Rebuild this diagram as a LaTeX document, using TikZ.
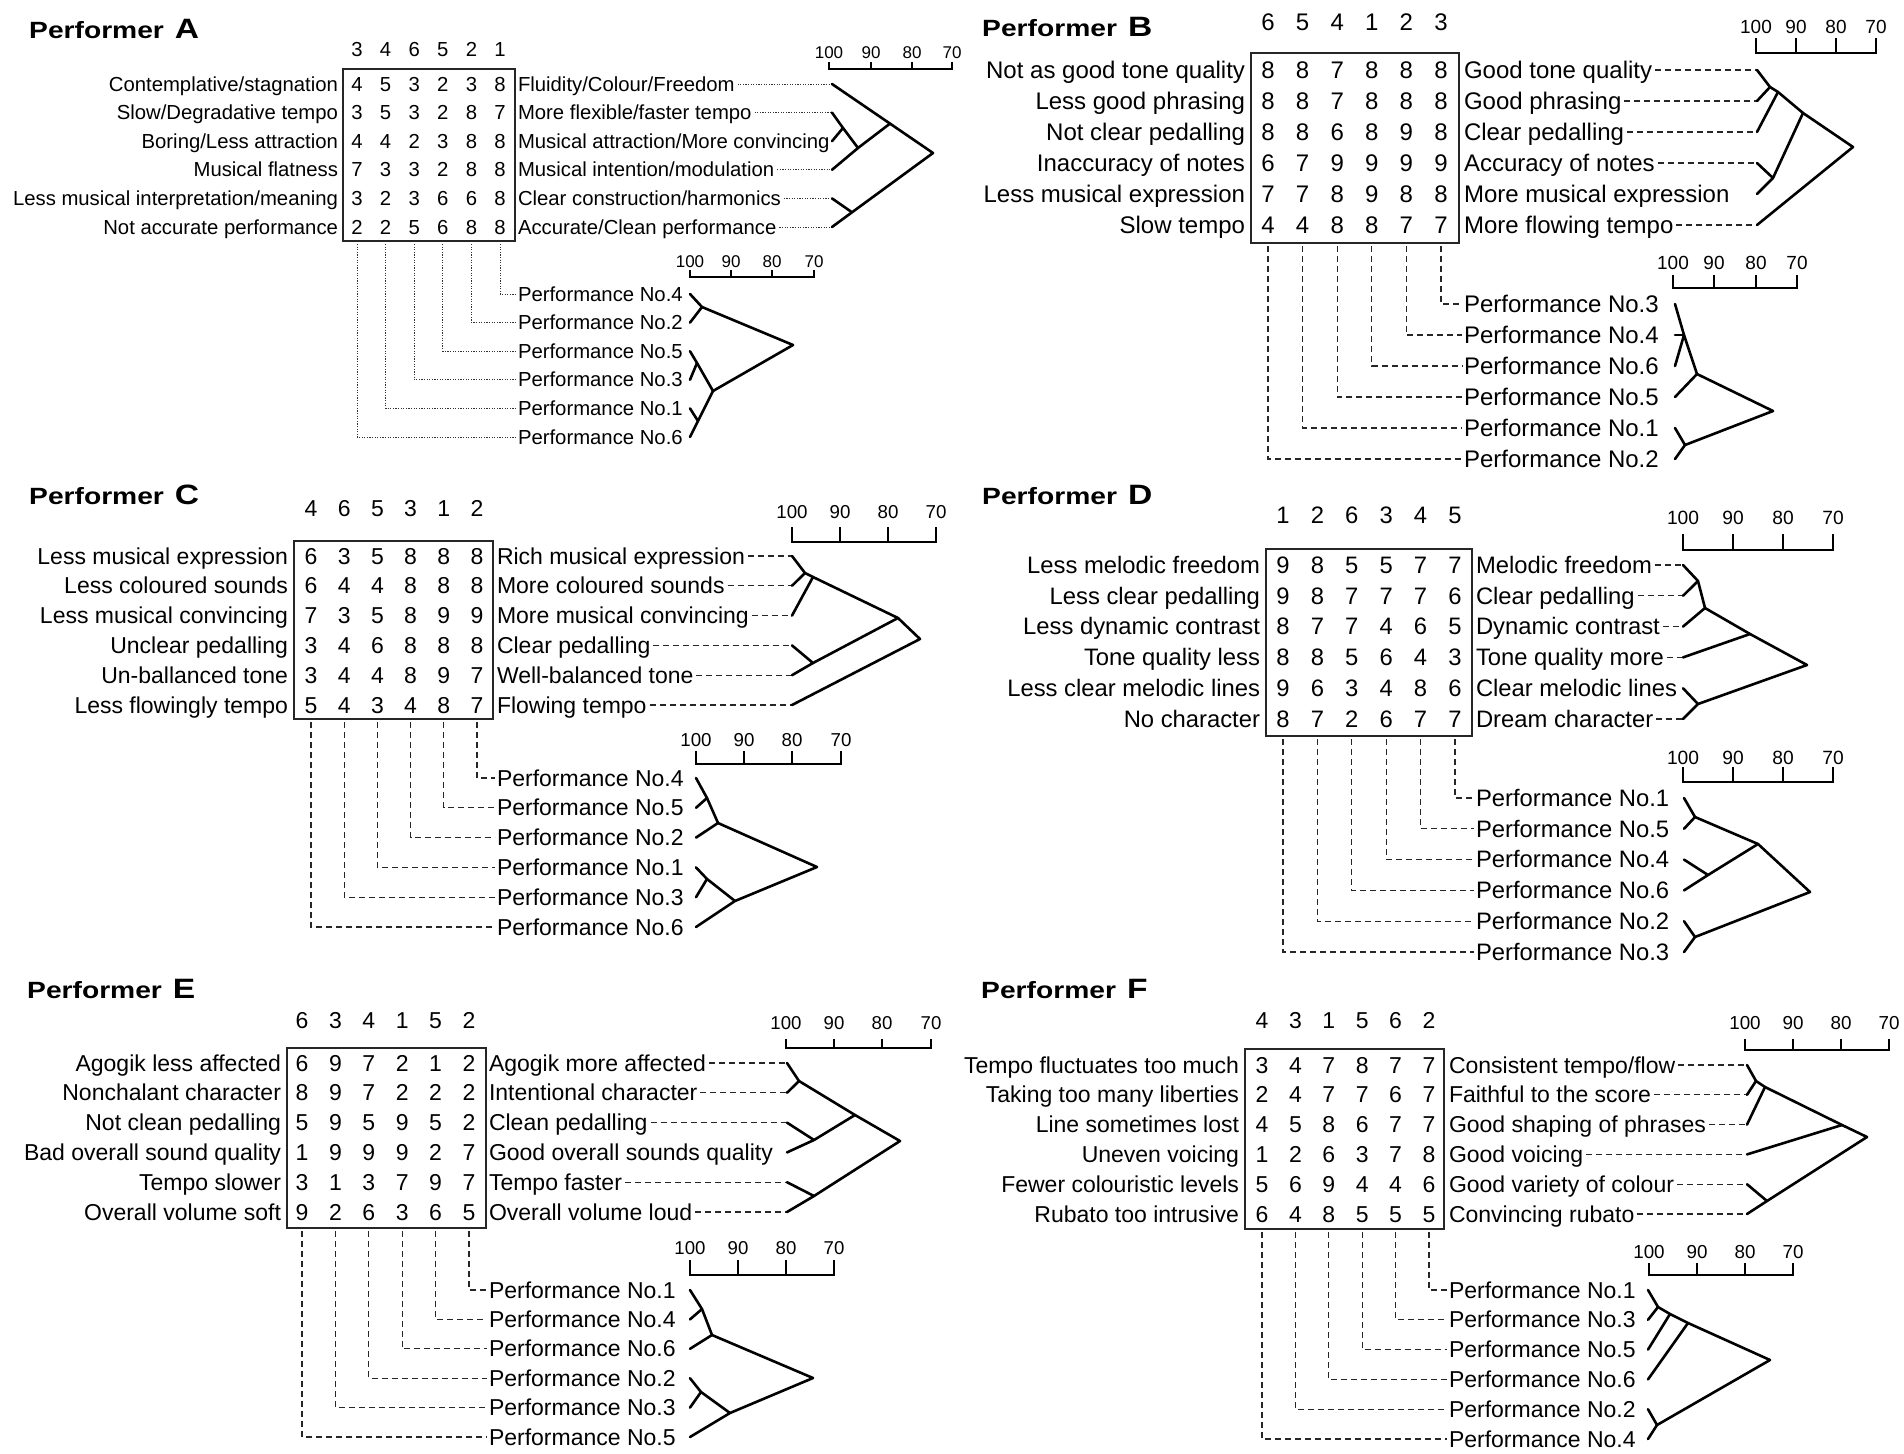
\documentclass[tikz,border=0pt]{standalone}
\usepackage{fontspec}
\setmainfont{Liberation Sans}
\newfontfamily\titlefont[FakeStretch=1.2]{Liberation Sans Bold}
\usetikzlibrary{calc}
\tikzset{
 lab/.style={inner sep=0pt, outer sep=0pt, text height=\QcapH pt, text depth=0pt, font=\Qpfont},
 num/.style={lab, anchor=center},
 sclab/.style={inner sep=0pt, outer sep=0pt, text height=\QscH pt, text depth=0pt, font=\Qsfont},
 boxst/.style={draw=black!85, line width=1.6pt, inner sep=0pt, outer sep=0pt},
 dend/.style={line width=2.6pt, line cap=round, line join=round},
 scl/.style={line width=1.6pt},
 dotc/.style={line width=1pt, dash pattern=on 1.2pt off 1.4pt, black!80},
 dashc/.style={line width=1.2pt, dash pattern=on 6pt off 4pt, black!85},
 conn/.style={dashc},
 titlest/.style={anchor=base west, inner sep=0pt, font=\titlefont\fontsize{23.5}{23.5}\selectfont},
}
\newcommand\drawpanel{%
 \pgfmathsetmacro\QcapH{0.70*\Qfs}%
 \def\Qpfont{\fontsize{\Qfs}{\Qfs}\selectfont}%
 \node[titlest] (\Qid-title) at (\Qtx,\Qty) {Performer\hspace{11pt}{\fontsize{28}{28}\selectfont\Qid}};
 \foreach \hh [count=\j] in \Qheads {\node[num] (\Qid-h\j) at ({\Qcx+(\j-1)*\Qcdx},\Qhy) {\hh};}
 \pgfmathsetmacro\Qbw{\Qbr-\Qbl}\pgfmathsetmacro\Qbh{\Qbb-\Qbt}
 \node[boxst, minimum width=\Qbw pt, minimum height=\Qbh pt, anchor=north west] (\Qid-box) at (\Qbl,\Qbt) {};
 \foreach \va/\vb/\vc/\vd/\ve/\vf [count=\i] in \Qvals {
   \foreach \vv [count=\j] in {\va,\vb,\vc,\vd,\ve,\vf} {
     \node[num] (\Qid-v\i-\j) at ({\Qcx+(\j-1)*\Qcdx},{\Qry+(\i-1)*\Qrdy}) {\vv};}}
 \foreach \lt [count=\i] in \Qlefts {\node[lab, anchor=east] (\Qid-l\i) at (\Qlex,{\Qry+(\i-1)*\Qrdy}) {\lt};}
 \foreach \lt [count=\i] in \Qrights {\node[lab, anchor=west] (\Qid-r\i) at (\Qrw,{\Qry+(\i-1)*\Qrdy}) {\lt};}
 \foreach \pn [count=\i] in \Qperfs {\node[lab, anchor=west] (\Qid-p\i) at (\Qrw,{\Qpy+(\i-1)*\Qpdy}) {Performance No.\pn};}
 \foreach \i in {1,...,6} {
   \coordinate (\Qid-L\i) at (\Qlx,{\Qry+(\i-1)*\Qrdy});
   \coordinate (\Qid-Q\i) at (\Qplx,{\Qpy+(\i-1)*\Qpdy});}
 \foreach \i in \Qdash {\draw[conn] ([xshift=3pt]\Qid-r\i.east) -- (\Qid-L\i);}
 \foreach \j in {1,...,6} {\pgfmathtruncatemacro\kk{7-\j}
   \draw[conn] ($(\Qid-h\j |- \Qid-box.south)+(0,3)$) |- ([xshift=-2pt]\Qid-p\kk.west);}
}
% name, x1..x4, label y, bar y, tick top, font size
\newcommand\scalebar[9]{%
 \pgfmathsetmacro\QscH{0.70*#9}%
 \def\Qsfont{\fontsize{#9}{#9}\selectfont}%
 \foreach \xx/\sv [count=\q] in {#2/100,#3/90,#4/80,#5/70} {\node[sclab] (#1-\q) at (\xx,#6) {\sv};}
 \draw[scl] (#2,#8) -- (#2,#7) -- (#5,#7) -- (#5,#8);
 \draw[scl] (#3,#7) -- (#3,#8);
 \draw[scl] (#4,#7) -- (#4,#8);
}
\begin{document}
\begin{tikzpicture}[x=1pt,y=-1pt]
\useasboundingbox (0,0) rectangle (1904,1454);
\fill[white] (0,0) rectangle (1904,1454);
% ================= A
\tikzset{conn/.style={dotc}}
\def\Qid{A}\def\Qfs{20.3}
\def\Qtx{29}\def\Qty{38}
\def\Qheads{3,4,6,5,2,1}
\def\Qcx{357}\def\Qcdx{28.6}\def\Qhy{49}
\def\Qry{84}\def\Qrdy{28.6}
\def\Qbl{343}\def\Qbt{69}\def\Qbr{515}\def\Qbb{241}
\def\Qlex{338}\def\Qrw{518}\def\Qlx{832}
\def\Qpy{294}\def\Qpdy{28.6}\def\Qplx{690}
\def\Qvals{4/5/3/2/3/8, 3/5/3/2/8/7, 4/4/2/3/8/8, 7/3/3/2/8/8, 3/2/3/6/6/8, 2/2/5/6/8/8}
\def\Qlefts{Contemplative/stagnation, Slow/Degradative tempo, Boring/Less attraction, Musical flatness, Less musical interpretation/meaning, Not accurate performance}
\def\Qrights{Fluidity/Colour/Freedom, More flexible/faster tempo, Musical attraction/More convincing, Musical intention/modulation, Clear construction/harmonics, Accurate/Clean performance}
\def\Qdash{1,2,4,5,6}
\def\Qperfs{4,2,5,3,1,6}
\drawpanel
\scalebar{A-st}{829}{871}{912}{952}{53}{69}{62}{17}
\scalebar{A-sb}{690}{731}{772}{814}{262}{277}{270}{17}
\coordinate (A-t23) at (843,128);
\coordinate (A-t234) at (858,148);
\coordinate (A-t1234) at (890,123.6);
\coordinate (A-troot) at (933,153);
\coordinate (A-t56) at (852,212.3);
\draw[dend] (A-L1) -- (A-t1234) -- (A-troot) -- (A-t56) -- (A-L6);
\draw[dend] (A-L2) -- (A-t23) -- (A-t234) -- (A-t1234);
\draw[dend] (A-L3) -- (A-t23);
\draw[dend] (A-L4) -- (A-t234);
\draw[dend] (A-L5) -- (A-t56);
\coordinate (A-b12) at (702,307);
\coordinate (A-broot) at (793,345);
\coordinate (A-b3456) at (713,391);
\coordinate (A-b34) at (697,363);
\coordinate (A-b56) at (698,421);
\draw[dend] (A-Q1) -- (A-b12) -- (A-broot) -- (A-b3456) -- (A-b34) -- (A-Q3);
\draw[dend] (A-Q2) -- (A-b12);
\draw[dend] (A-Q4) -- (A-b34);
\draw[dend] (A-b3456) -- (A-b56) -- (A-Q6);
\draw[dend] (A-Q5) -- (A-b56);
% ================= B
\tikzset{conn/.style={dashc}}
\def\Qid{B}\def\Qfs{24}
\def\Qtx{982}\def\Qty{36}
\def\Qheads{6,5,4,1,2,3}
\def\Qcx{1268}\def\Qcdx{34.6}\def\Qhy{22}
\def\Qry{70}\def\Qrdy{31}
\def\Qbl{1251}\def\Qbt{53}\def\Qbr{1459}\def\Qbb{243}
\def\Qlex{1245}\def\Qrw{1464}\def\Qlx{1757}
\def\Qpy{304}\def\Qpdy{31}\def\Qplx{1675}
\def\Qvals{8/8/7/8/8/8, 8/8/7/8/8/8, 8/8/6/8/9/8, 6/7/9/9/9/9, 7/7/8/9/8/8, 4/4/8/8/7/7}
\def\Qlefts{Not as good tone quality, Less good phrasing, Not clear pedalling, Inaccuracy of notes, Less musical expression, Slow tempo}
\def\Qrights{Good tone quality, Good phrasing, Clear pedalling, Accuracy of notes, More musical expression, More flowing tempo}
\def\Qdash{1,2,3,4,6}
\def\Qperfs{3,4,6,5,1,2}
\drawpanel
\scalebar{B-st}{1756}{1796}{1836}{1876}{27}{53}{38}{19}
\scalebar{B-sb}{1673}{1714}{1756}{1797}{263}{288}{275}{19}
\coordinate (B-t12) at (1770,87);
\coordinate (B-t123) at (1778,92);
\coordinate (B-t12345) at (1803,113);
\coordinate (B-t45) at (1773,178);
\coordinate (B-troot) at (1853,147);
\draw[dend] (B-L1) -- (B-t12) -- (B-t123) -- (B-t12345) -- (B-troot) -- (B-L6);
\draw[dend] (B-L2) -- (B-t12);
\draw[dend] (B-L3) -- (B-t123);
\draw[dend] (B-L4) -- (B-t45) -- (B-t12345);
\draw[dend] (B-L5) -- (B-t45);
\coordinate (B-b123) at (1684,335);
\coordinate (B-b1234) at (1697,374);
\coordinate (B-b56) at (1685,445);
\coordinate (B-broot) at (1773,411);
\draw[dend] (B-Q1) -- (B-b123) -- (B-b1234) -- (B-broot) -- (B-b56) -- (B-Q6);
\draw[dend] (B-Q2) -- (B-b123);
\draw[dend] (B-Q3) -- (B-b123);
\draw[dend] (B-Q4) -- (B-b1234);
\draw[dend] (B-Q5) -- (B-b56);
% ================= C
\def\Qid{C}\def\Qfs{23}
\def\Qtx{29}\def\Qty{504}
\def\Qheads{4,6,5,3,1,2}
\def\Qcx{311}\def\Qcdx{33.2}\def\Qhy{508}
\def\Qry{556}\def\Qrdy{29.8}
\def\Qbl{294}\def\Qbt{541}\def\Qbr{493}\def\Qbb{719}
\def\Qlex{288}\def\Qrw{497}\def\Qlx{792}
\def\Qpy{778}\def\Qpdy{29.8}\def\Qplx{696}
\def\Qvals{6/3/5/8/8/8, 6/4/4/8/8/8, 7/3/5/8/9/9, 3/4/6/8/8/8, 3/4/4/8/9/7, 5/4/3/4/8/7}
\def\Qlefts{Less musical expression, Less coloured sounds, Less musical convincing, Unclear pedalling, Un-ballanced tone, Less flowingly tempo}
\def\Qrights{Rich musical expression, More coloured sounds, More musical convincing, Clear pedalling, Well-balanced tone, Flowing tempo}
\def\Qdash{1,2,3,4,5,6}
\def\Qperfs{4,5,2,1,3,6}
\drawpanel
\scalebar{C-st}{792}{840}{888}{936}{512}{542}{527}{18.7}
\scalebar{C-sb}{696}{744}{792}{841}{740}{764}{751}{18.7}
\coordinate (C-t12) at (805,573);
\coordinate (C-t123) at (813,577);
\coordinate (C-t12345) at (898,618);
\coordinate (C-t45) at (813,663);
\coordinate (C-troot) at (920,639);
\draw[dend] (C-L1) -- (C-t12) -- (C-t123) -- (C-t12345) -- (C-troot) -- (C-L6);
\draw[dend] (C-L2) -- (C-t12);
\draw[dend] (C-L3) -- (C-t123);
\draw[dend] (C-L4) -- (C-t45) -- (C-t12345);
\draw[dend] (C-L5) -- (C-t45);
\coordinate (C-b12) at (707,798);
\coordinate (C-b123) at (718,823);
\coordinate (C-b45) at (707,879);
\coordinate (C-b456) at (735,901);
\coordinate (C-broot) at (817,867);
\draw[dend] (C-Q1) -- (C-b12) -- (C-b123) -- (C-broot) -- (C-b456) -- (C-Q6);
\draw[dend] (C-Q2) -- (C-b12);
\draw[dend] (C-Q3) -- (C-b123);
\draw[dend] (C-Q4) -- (C-b45) -- (C-b456);
\draw[dend] (C-Q5) -- (C-b45);
% ================= D
\def\Qid{D}\def\Qfs{23.8}
\def\Qtx{982}\def\Qty{504}
\def\Qheads{1,2,6,3,4,5}
\def\Qcx{1283}\def\Qcdx{34.4}\def\Qhy{515}
\def\Qry{565}\def\Qrdy{30.8}
\def\Qbl{1266}\def\Qbt{549}\def\Qbr{1472}\def\Qbb{736}
\def\Qlex{1260}\def\Qrw{1476}\def\Qlx{1683}
\def\Qpy{798}\def\Qpdy{30.8}\def\Qplx{1684}
\def\Qvals{9/8/5/5/7/7, 9/8/7/7/7/6, 8/7/7/4/6/5, 8/8/5/6/4/3, 9/6/3/4/8/6, 8/7/2/6/7/7}
\def\Qlefts{Less melodic freedom, Less clear pedalling, Less dynamic contrast, Tone quality less, Less clear melodic lines, No character}
\def\Qrights{Melodic freedom, Clear pedalling, Dynamic contrast, Tone quality more, Clear melodic lines, Dream character}
\def\Qdash{1,2,3,4,6}
\def\Qperfs{1,5,4,6,2,3}
\drawpanel
\scalebar{D-st}{1683}{1733}{1783}{1833}{518}{550}{534}{19.2}
\scalebar{D-sb}{1683}{1733}{1783}{1833}{758}{782}{767}{19.2}
\coordinate (D-t12) at (1698,581);
\coordinate (D-t123) at (1705,608);
\coordinate (D-t1234) at (1750,634);
\coordinate (D-troot) at (1807,665);
\coordinate (D-t56) at (1698,704);
\draw[dend] (D-L1) -- (D-t12) -- (D-t123) -- (D-t1234) -- (D-troot) -- (D-t56) -- (D-L6);
\draw[dend] (D-L2) -- (D-t12);
\draw[dend] (D-L3) -- (D-t123);
\draw[dend] (D-L4) -- (D-t1234);
\draw[dend] (D-L5) -- (D-t56);
\coordinate (D-b12) at (1695,817);
\coordinate (D-b1234) at (1758,844);
\coordinate (D-b34) at (1708,875);
\coordinate (D-broot) at (1810,892);
\coordinate (D-b56) at (1695,937);
\draw[dend] (D-Q1) -- (D-b12) -- (D-b1234) -- (D-broot) -- (D-b56) -- (D-Q6);
\draw[dend] (D-Q2) -- (D-b12);
\draw[dend] (D-Q4) -- (D-b34) -- (D-b1234);
\draw[dend] (D-Q3) -- (D-b34);
\draw[dend] (D-Q5) -- (D-b56);
% ================= E
\def\Qid{E}\def\Qfs{23}
\def\Qtx{27}\def\Qty{998}
\def\Qheads{6,3,4,1,5,2}
\def\Qcx{302}\def\Qcdx{33.4}\def\Qhy{1020}
\def\Qry{1063}\def\Qrdy{29.8}
\def\Qbl{287}\def\Qbt{1048}\def\Qbr{486}\def\Qbb{1228}
\def\Qlex{281}\def\Qrw{489}\def\Qlx{787}
\def\Qpy{1290}\def\Qpdy{29.4}\def\Qplx{690}
\def\Qvals{6/9/7/2/1/2, 8/9/7/2/2/2, 5/9/5/9/5/2, 1/9/9/9/2/7, 3/1/3/7/9/7, 9/2/6/3/6/5}
\def\Qlefts{Agogik less affected, Nonchalant character, Not clean pedalling, Bad overall sound quality, Tempo slower, Overall volume soft}
\def\Qrights{Agogik more affected, Intentional character, Clean pedalling, Good overall sounds quality, Tempo faster, Overall volume loud}
\def\Qdash{1,2,3,5,6}
\def\Qperfs{1,4,6,2,3,5}
\drawpanel
\scalebar{E-st}{786}{834}{882}{931}{1023}{1048}{1039}{18.6}
\scalebar{E-sb}{690}{738}{786}{834}{1248}{1275}{1260}{18.6}
\coordinate (E-t12) at (799,1081);
\coordinate (E-t1234) at (855,1115);
\coordinate (E-t34) at (814,1140);
\coordinate (E-t56) at (814,1196);
\coordinate (E-troot) at (900,1141);
\draw[dend] (E-L1) -- (E-t12) -- (E-t1234) -- (E-troot) -- (E-t56) -- (E-L6);
\draw[dend] (E-L2) -- (E-t12);
\draw[dend] (E-L4) -- (E-t34) -- (E-t1234);
\draw[dend] (E-L3) -- (E-t34);
\draw[dend] (E-L5) -- (E-t56);
\coordinate (E-b12) at (702,1309);
\coordinate (E-b123) at (712,1335);
\coordinate (E-b45) at (701,1392);
\coordinate (E-b456) at (730,1413);
\coordinate (E-broot) at (813,1378);
\draw[dend] (E-Q1) -- (E-b12) -- (E-b123) -- (E-broot) -- (E-b456) -- (E-Q6);
\draw[dend] (E-Q2) -- (E-b12);
\draw[dend] (E-Q3) -- (E-b123);
\draw[dend] (E-Q4) -- (E-b45) -- (E-b456);
\draw[dend] (E-Q5) -- (E-b45);
% ================= F
\def\Qid{F}\def\Qfs{23}
\def\Qtx{981}\def\Qty{998}
\def\Qheads{4,3,1,5,6,2}
\def\Qcx{1262}\def\Qcdx{33.4}\def\Qhy{1020}
\def\Qry{1065}\def\Qrdy{29.8}
\def\Qbl{1245}\def\Qbt{1049}\def\Qbr{1444}\def\Qbb{1229}
\def\Qlex{1239}\def\Qrw{1449}\def\Qlx{1747}
\def\Qpy{1290}\def\Qpdy{29.8}\def\Qplx{1648}
\def\Qvals{3/4/7/8/7/7, 2/4/7/7/6/7, 4/5/8/6/7/7, 1/2/6/3/7/8, 5/6/9/4/4/6, 6/4/8/5/5/5}
\def\Qlefts{Tempo fluctuates too much, Taking too many liberties, Line sometimes lost, Uneven voicing, Fewer colouristic levels, Rubato too intrusive}
\def\Qrights{Consistent tempo/flow, Faithful to the score, Good shaping of phrases, Good voicing, Good variety of colour, Convincing rubato}
\def\Qdash{1,2,3,4,5,6}
\def\Qperfs{1,3,5,6,2,4}
\drawpanel
\scalebar{F-st}{1745}{1793}{1841}{1889}{1023}{1050}{1039}{18.8}
\scalebar{F-sb}{1649}{1697}{1745}{1793}{1252}{1275}{1263}{18.8}
\coordinate (F-t12) at (1756,1081);
\coordinate (F-t123) at (1765,1087);
\coordinate (F-t1234) at (1842,1125);
\coordinate (F-troot) at (1867,1137);
\coordinate (F-t56) at (1767,1201);
\draw[dend] (F-L1) -- (F-t12) -- (F-t123) -- (F-t1234) -- (F-troot) -- (F-t56) -- (F-L6);
\draw[dend] (F-L2) -- (F-t12);
\draw[dend] (F-L3) -- (F-t123);
\draw[dend] (F-L4) -- (F-t1234);
\draw[dend] (F-L5) -- (F-t56);
\coordinate (F-b12) at (1658,1307);
\coordinate (F-b123) at (1670,1314);
\coordinate (F-b1234) at (1688,1323);
\coordinate (F-broot) at (1770,1360);
\coordinate (F-b56) at (1657,1425);
\draw[dend] (F-Q1) -- (F-b12) -- (F-b123) -- (F-b1234) -- (F-broot) -- (F-b56) -- (F-Q6);
\draw[dend] (F-Q2) -- (F-b12);
\draw[dend] (F-Q3) -- (F-b123);
\draw[dend] (F-Q4) -- (F-b1234);
\draw[dend] (F-Q5) -- (F-b56);
\end{tikzpicture}
\end{document}
